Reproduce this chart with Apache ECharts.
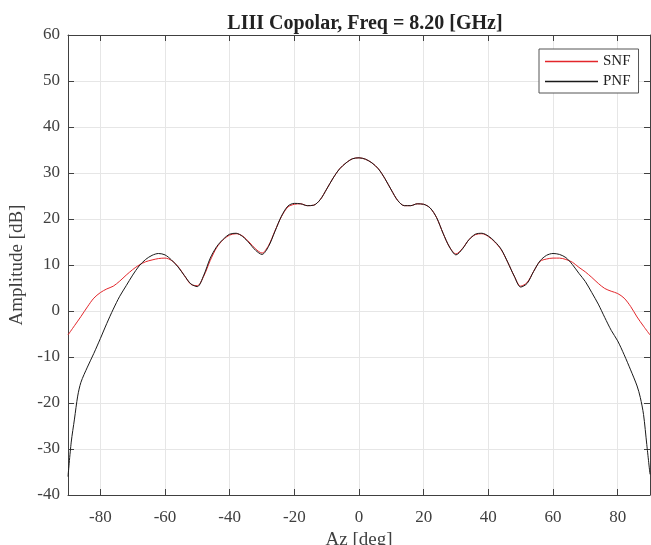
<!DOCTYPE html>
<html><head><meta charset="utf-8">
<script src="https://cdn.jsdelivr.net/npm/echarts@6/dist/echarts.min.js"></script>
<style>html,body{margin:0;padding:0;background:#fff}#c{width:651px;height:545px}</style>
</head><body><div id="c"></div>
<script>
const xTicks = [-80, -60, -40, -20, 0, 20, 40, 60, 80];
const pnfAz = [-90,-89,-88,-87,-86,-84,-82,-80,-78,-76,-74,-72,-70,-68,-66,-64,-62,-60,-58,-56,-54,-52,-50,-48,-46,-44,-42,-40,-38,-36,-34,-32,-30,-28,-26,-24,-22,-20,-18,-16,-14,-12,-10,-8,-6,-4,-2,0,2,4,6,8,10,12,14,16,18,20,22,24,26,28,30,32,34,36,38,40,42,44,46,48,50,52,54,56,58,60,62,64,66,68,70,72,74,76,78,80,82,84,86,87,88,89,90];
const pnfVal = [-36,-28.5,-23.5,-18.5,-15.5,-12.2,-9.2,-6,-2.7,0.4,3.2,5.5,7.8,9.8,11.2,12.1,12.5,12.2,11.1,9.6,7.7,5.9,5.3,7.8,11.5,14.0,15.6,16.7,16.9,16.2,14.8,13.2,12.3,14.0,17.3,20.6,22.8,23.4,23.3,22.9,23.0,24.2,26.5,28.9,30.9,32.2,33.1,33.3,33.0,32.2,30.9,28.8,26.3,24.0,22.9,22.9,23.3,23.2,22.4,20.3,16.9,13.9,12.2,13.5,15.5,16.7,16.9,16.3,15.1,13.4,10.6,7.6,5.2,6.0,8.6,10.9,12.1,12.5,12.3,11.6,10.1,8.2,6.4,4.0,1.5,-1.4,-4.2,-6.5,-9.5,-12.8,-16.3,-18.8,-22.5,-29,-35.5];
const snfAz = [-90,-88,-86,-84,-82,-80,-78,-76,-74,-72,-70,-68,-66,-64,-62,-60,-58,-56,-54,-52,-50,-48,-46,-44,-42,-40,-38,-36,-34,-32,-30,-28,-26,-24,-22,-20,-18,-16,-14,-12,-10,-8,-6,-4,-2,0,2,4,6,8,10,12,14,16,18,20,22,24,26,28,30,32,34,36,38,40,42,44,46,48,50,52,54,56,58,60,62,64,66,68,70,72,74,76,78,80,82,84,86,88,90];
const snfVal = [-5.2,-3.2,-1.2,0.9,2.8,4.0,4.8,5.4,6.5,7.8,9.0,10.0,10.7,11.1,11.4,11.5,11.0,9.7,7.7,5.8,5.5,7.6,11.0,13.8,15.5,16.5,16.8,16.3,15.0,13.5,12.6,14.2,17.4,20.5,22.6,23.2,23.3,22.9,23.0,24.2,26.5,28.9,30.9,32.2,33.1,33.3,33.0,32.2,30.9,28.8,26.3,24.0,22.9,22.9,23.3,23.2,22.4,20.3,16.9,13.9,12.4,13.6,15.5,16.6,16.8,16.2,15.0,13.3,10.6,7.6,5.4,6.2,8.6,10.8,11.3,11.5,11.5,11.2,10.6,9.5,8.5,7.3,6.0,4.9,4.3,3.8,2.8,1.0,-1.3,-3.3,-5.2];

const font = '"Liberation Serif", "Times New Roman", serif';
const txt = '#404040';
const axisCol = '#404040';
const red = '#e3262b', black = '#1a1a1a';
const chart = echarts.init(document.getElementById('c'), null, {renderer: 'canvas'});
const pairs = (a, v) => a.map((x, i) => [x, v[i]]);
chart.setOption({
  animation: false,
  backgroundColor: '#fff',
  title: {text: 'LIII Copolar, Freq = 8.20 [GHz]', left: 360, textAlign: 'center', top: 9,
    textStyle: {fontFamily: font, fontSize: 20, fontWeight: 'bold', color: '#222'}},
  legend: {left: 539, top: 49, orient: 'vertical', icon: 'rect', itemWidth: 53, itemHeight: 1.5,
    itemGap: 5, itemTextGap: 5,
    padding: [5, 8, 4, 6], borderColor: '#555', borderWidth: 1, backgroundColor: '#fff',
    textStyle: {fontFamily: font, fontSize: 15, color: '#222'},
    data: [{name: 'SNF', itemStyle: {color: red}}, {name: 'PNF', itemStyle: {color: black}}]},
  grid: {left: 68, right: 1, top: 35, bottom: 50, outerBoundsMode: 'none', containLabel: false},
  xAxis: [{type: 'value', min: -90, max: 90, name: 'Az [deg]', nameLocation: 'middle', nameGap: 31,
      nameTextStyle: {fontFamily: font, fontSize: 19, color: txt},
      axisLine: {show: true, onZero: false, lineStyle: {color: axisCol}},
      axisTick: {show: true, inside: true, length: 6, customValues: xTicks, lineStyle: {color: axisCol}},
      axisLabel: {customValues: xTicks, fontFamily: font, fontSize: 17, color: txt, margin: 14},
      splitLine: {show: true, lineStyle: {color: '#e6e6e6'}}},
    {type: 'value', min: -90, max: 90, position: 'top',
      axisLine: {show: true, onZero: false, lineStyle: {color: axisCol}},
      axisTick: {show: true, inside: true, length: 6, customValues: xTicks, lineStyle: {color: axisCol}},
      axisLabel: {show: false}, splitLine: {show: false}}],
  yAxis: [{type: 'value', min: -40, max: 60, interval: 10, name: 'Amplitude [dB]', nameLocation: 'middle', nameGap: 28,
      nameTextStyle: {fontFamily: font, fontSize: 19, color: txt},
      axisLine: {show: true, onZero: false, lineStyle: {color: axisCol}},
      axisTick: {show: true, inside: true, length: 6, lineStyle: {color: axisCol}},
      axisLabel: {fontFamily: font, fontSize: 17, color: txt, margin: 8},
      splitLine: {show: true, lineStyle: {color: '#e6e6e6'}}},
    {type: 'value', min: -40, max: 60, interval: 10, position: 'right',
      axisLine: {show: true, onZero: false, lineStyle: {color: axisCol}},
      axisTick: {show: true, inside: true, length: 6, lineStyle: {color: axisCol}},
      axisLabel: {show: false}, splitLine: {show: false}}],
  series: [
    {name: 'SNF', type: 'line', data: pairs(snfAz, snfVal), smooth: 0.3, symbol: 'none',
      lineStyle: {color: red, width: 1}, itemStyle: {color: red}, z: 2},
    {name: 'PNF', type: 'line', data: pairs(pnfAz, pnfVal), smooth: 0.3, symbol: 'none',
      lineStyle: {color: black, width: 1}, itemStyle: {color: black}, z: 3}
  ]
});
</script></body></html>
